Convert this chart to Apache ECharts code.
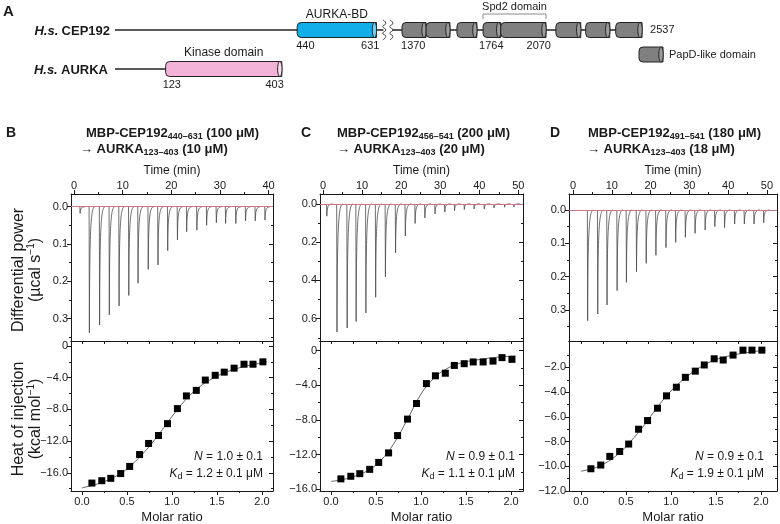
<!DOCTYPE html>
<html>
<head>
<meta charset="utf-8">
<script src="https://cdn.jsdelivr.net/npm/echarts@6/dist/echarts.min.js"></script>
<style>
  html, body { margin: 0; padding: 0; background: #fff; }
  #chart { width: 780px; height: 524px; }
</style>
</head>
<body>
<div id="chart"></div>
<script>
// ---- A: domain architecture (residue numbers)
const cep192Length = 2537;
const aurkaLength = 403;
const aurkaBD = [440, 631];
const kinaseDomain = [123, 403];
const papdDomains = [[1370, 1487], [1487, 1603], [1637, 1734], [1764, 1850], [1850, 2070], [2118, 2239], [2263, 2380], [2409, 2537]];
const spd2Domain = [1764, 2070];
const cepBreak = [631, 1370];

// ---- B–D raw thermograms: injection time (min) and peak depth (µcal/s)
const timesB = [1.2, 3.1, 5.2, 7.2, 9.2, 11.2, 13.1, 15.2, 17.2, 19.2, 21.2, 23.1, 25.2, 27.2, 29.2, 31.1, 33.2, 35.2, 37.2, 39.2];
const peaksB = [0.018, 0.338, 0.317, 0.290, 0.266, 0.238, 0.205, 0.168, 0.156, 0.118, 0.089, 0.067, 0.063, 0.050, 0.043, 0.045, 0.045, 0.038, 0.038, 0.036];
const timesC = [0.9, 3.5, 6.1, 8.4, 10.9, 13.4, 15.9, 18.5, 21.0, 23.5, 26.0, 28.6, 31.1, 33.6, 36.1, 38.6, 41.2, 43.7, 46.4, 48.8];
const peaksC = [0.064, 0.670, 0.649, 0.615, 0.570, 0.488, 0.381, 0.256, 0.168, 0.102, 0.073, 0.052, 0.043, 0.035, 0.029, 0.026, 0.026, 0.021, 0.017, 0.016];
const timesD = [3.7, 6.3, 8.7, 11.3, 13.7, 16.3, 18.8, 21.3, 23.9, 26.4, 28.9, 31.4, 34.0, 36.5, 39.0, 41.6, 44.1, 46.6, 49.1];
const peaksD = [0.332, 0.312, 0.285, 0.242, 0.217, 0.185, 0.160, 0.136, 0.113, 0.097, 0.082, 0.070, 0.060, 0.050, 0.053, 0.042, 0.042, 0.042, 0.038];

// ---- B–D integrated heats (kcal/mol) vs molar ratio
const molarRatio = [0.11, 0.22, 0.32, 0.43, 0.53, 0.64, 0.74, 0.85, 0.95, 1.06, 1.16, 1.27, 1.37, 1.48, 1.58, 1.69, 1.80, 1.90, 2.01];
const heatB = [-17.3, -17.0, -16.7, -16.1, -15.2, -13.7, -12.3, -11.3, -9.8, -7.9, -6.3, -5.6, -4.3, -3.7, -3.3, -2.8, -2.3, -2.3, -2.0];
const heatC = [-14.8, -14.5, -14.2, -13.7, -12.9, -11.8, -9.8, -7.9, -6.1, -3.8, -2.9, -2.6, -1.7, -1.5, -1.3, -1.3, -1.2, -0.8, -1.0];
const heatD = [-10.2, -9.9, -9.2, -8.8, -8.2, -7.0, -6.3, -5.3, -4.3, -3.6, -2.8, -2.3, -1.8, -1.3, -1.4, -1.0, -0.6, -0.6, -0.6];

// fitted curves
const fitRatio = [0, 0.2, 0.4, 0.55, 0.7, 0.85, 1.0, 1.15, 1.3, 1.45, 1.6, 1.8, 2.05];
const fitB = [-17.9, -17.3, -16.3, -15.0, -13.3, -11.2, -8.9, -6.8, -5.2, -4.1, -3.3, -2.6, -2.0];
const fitC = [-15.1, -14.7, -13.9, -12.7, -10.7, -7.9, -5.0, -3.1, -2.0, -1.4, -1.1, -0.8, -0.6];
const fitD = [-10.4, -10.0, -9.1, -8.0, -6.7, -5.2, -3.9, -2.9, -2.1, -1.5, -1.15, -0.85, -0.6];

// tick labels
const timeTicksB = [0, 10, 20, 30, 40];
const timeTicksCD = [0, 10, 20, 30, 40, 50];
const powerTicksB = [0, 0.1, 0.2, 0.3];
const powerTicksC = [0, 0.2, 0.4, 0.6];
const powerTicksD = [0, 0.1, 0.2, 0.3];
const heatTicksB = [0, -4, -8, -12, -16];
const heatTicksC = [0, -4, -8, -12, -16];
const heatTicksD = [-2, -4, -6, -8, -10, -12];
const ratioTicks = [0, 0.5, 1.0, 1.5, 2.0];

const FONT = '"Liberation Sans", Arial, Helvetica, sans-serif';
const INK = '#1a1a1a';

const chart = echarts.init(document.getElementById('chart'));

const grids = [];
const xAxes = [];
const yAxes = [];
const series = [];
const graphics = [];

function axis(list, grid, pos, range, o) {
  list.push({
    type: 'value', gridIndex: grid, position: pos, min: range[0], max: range[1],
    inverse: !!o.inverse,
    axisLine: { show: o.line !== false, onZero: false, lineStyle: { color: INK, width: 1 } },
    axisTick: o.ticks && o.ticks.length
      ? { show: true, inside: !!o.inside, length: o.len || 4, customValues: o.ticks, lineStyle: { color: INK, width: 1 } }
      : { show: false },
    axisLabel: o.labels
      ? { show: true, customValues: o.labels, formatter: o.fmt, margin: o.margin || 3, fontSize: 11, fontFamily: FONT, color: INK }
      : { show: false },
    splitLine: { show: false },
    axisPointer: { show: false }
  });
  return list.length - 1;
}

function mids(majors, range) {
  const step = majors[1] - majors[0];
  const lo = Math.min(range[0], range[1]), hi = Math.max(range[0], range[1]);
  const out = [];
  for (let k = -3; k < majors.length + 3; k++) {
    const v = Math.round((majors[0] + (k + 0.5) * step) * 1e6) / 1e6;
    if (v >= lo && v <= hi) out.push(v);
  }
  return out;
}

function addText(x, y, text, o) {
  o = o || {};
  const align = o.align || 'left';
  graphics.push({
    type: 'text', x: x, y: y, rotation: o.rot || 0, silent: true,
    style: {
      text: text, fontFamily: FONT, fontSize: o.size || 12, fontWeight: o.weight || 'normal',
      fill: INK, align: align, textAlign: align, verticalAlign: 'middle', textVerticalAlign: 'middle',
      rich: o.rich
    }
  });
}

// ---------------- panel A ----------------
const ROW_CEP = 30, ROW_AURKA = 69;
// residues after the break are drawn at about half scale
const mapRes = r => (r <= cepBreak[0] ? r : 692.6 + (r - cepBreak[1]) * 0.4956);

grids.push({ left: 0, top: 0, width: 780, height: 100, outerBoundsMode: 'none' });
const xA = xAxes.push({ type: 'value', gridIndex: 0, min: -276.1, max: 1603.4, show: false }) - 1;
const yA = yAxes.push({ type: 'value', gridIndex: 0, min: 0, max: 100, inverse: true, show: false }) - 1;

const archItems = [
  { kind: 'line', x1: 1, x2: 650, row: ROW_CEP },
  { kind: 'line', x1: 667, x2: mapRes(cep192Length), row: ROW_CEP },
  { kind: 'line', x1: 1, x2: aurkaLength, row: ROW_AURKA },
  { kind: 'brk', x: 650, row: ROW_CEP },
  { kind: 'brk', x: 667, row: ROW_CEP },
  { kind: 'cyl', x1: aurkaBD[0], x2: aurkaBD[1], row: ROW_CEP, color: '#12aeea', cap: '#6fd0f5' },
  { kind: 'cyl', x1: kinaseDomain[0], x2: kinaseDomain[1], row: ROW_AURKA, color: '#f3b3d9', cap: '#fbdcef' }
];
papdDomains.forEach(d => archItems.push({ kind: 'cyl', x1: mapRes(d[0]), x2: mapRes(d[1]), row: ROW_CEP, color: '#808080', cap: '#9c9c9c' }));
archItems.push({ kind: 'bracket', x1: mapRes(spd2Domain[0]), x2: mapRes(spd2Domain[1]), row: ROW_CEP });
archItems.push({ kind: 'txt', x: (aurkaBD[0] + aurkaBD[1]) / 2, row: ROW_CEP, dy: -15, text: 'AURKA-BD', align: 'center', size: 12 });
archItems.push({ kind: 'txt', x: (kinaseDomain[0] + kinaseDomain[1]) / 2, row: ROW_AURKA, dy: -16, text: 'Kinase domain', align: 'center', size: 12 });
archItems.push({ kind: 'txt', x: (mapRes(spd2Domain[0]) + mapRes(spd2Domain[1])) / 2, row: ROW_CEP, dy: -23, text: 'Spd2 domain', align: 'center', size: 11 });
[
  [aurkaBD[0], 'left', -1], [aurkaBD[1], 'right', 3], [papdDomains[0][0], 'left', -1],
  [spd2Domain[0], 'left', -4], [spd2Domain[1], 'right', 5]
].forEach(l => archItems.push({ kind: 'txt', x: mapRes(l[0]), row: ROW_CEP, dy: 16, dx: l[2], text: String(l[0]), align: l[1], size: 11 }));
archItems.push({ kind: 'txt', x: mapRes(cep192Length), row: ROW_CEP, dy: 0, dx: 8, text: String(cep192Length), align: 'left', size: 11 });
archItems.push({ kind: 'txt', x: kinaseDomain[0], row: ROW_AURKA, dy: 16, dx: -3, text: String(kinaseDomain[0]), align: 'left', size: 11 });
archItems.push({ kind: 'txt', x: kinaseDomain[1], row: ROW_AURKA, dy: 16, dx: 2, text: String(kinaseDomain[1]), align: 'right', size: 11 });

function archRender(params, api) {
  const it = archItems[params.dataIndex];
  const stroke = { stroke: '#222', lineWidth: 1 };
  if (it.kind === 'line') {
    const a = api.coord([it.x1, it.row]), b = api.coord([it.x2, it.row]);
    return { type: 'line', shape: { x1: a[0], y1: a[1], x2: b[0], y2: b[1] }, style: { stroke: '#222', lineWidth: 1.3 } };
  }
  if (it.kind === 'cyl') {
    const a = api.coord([it.x1, it.row]), b = api.coord([it.x2, it.row]);
    const h = 15;
    return {
      type: 'group', children: [
        { type: 'rect', shape: { x: a[0], y: a[1] - h / 2, width: b[0] - a[0], height: h, r: [4, 0, 0, 4] }, style: Object.assign({ fill: it.color }, stroke) },
        { type: 'ellipse', shape: { cx: b[0] - 2, cy: b[1], rx: 2.2, ry: h / 2 }, style: Object.assign({ fill: it.cap }, stroke) }
      ]
    };
  }
  if (it.kind === 'brk') {
    const c = api.coord([it.x, it.row]);
    const pts = [];
    for (let k = 0; k <= 6; k++) pts.push([c[0] + (k % 2 ? 1.5 : -1.5), c[1] - 10 + k * 3.3]);
    return {
      type: 'group', children: [
        { type: 'rect', shape: { x: c[0] - 1, y: c[1] - 2, width: 2, height: 4 }, style: { fill: '#fff' } },
        { type: 'polyline', shape: { points: pts, smooth: 0.6 }, style: { stroke: '#333', lineWidth: 0.9, fill: 'none' } }
      ]
    };
  }
  if (it.kind === 'bracket') {
    const a = api.coord([it.x1, it.row]), b = api.coord([it.x2, it.row]);
    const y0 = a[1] - 11, y1 = a[1] - 16;
    return { type: 'polyline', shape: { points: [[a[0], y0], [a[0], y1], [b[0], y1], [b[0], y0]] }, style: { stroke: '#8a8a8a', lineWidth: 1, fill: 'none' } };
  }
  const p = api.coord([it.x, it.row]);
  return {
    type: 'text', x: p[0] + (it.dx || 0), y: p[1] + it.dy,
    style: { text: it.text, fontFamily: FONT, fontSize: it.size, fill: INK, align: it.align, textAlign: it.align, verticalAlign: 'middle', textVerticalAlign: 'middle' }
  };
}

series.push({
  type: 'custom', xAxisIndex: xA, yAxisIndex: yA, silent: true, clip: false,
  data: archItems.map(it => [it.x1 !== undefined ? it.x1 : it.x, it.row]),
  renderItem: archRender
});

addText(3, 12, 'A', { size: 15, weight: 'bold' });
const nameRich = {
  i: { fontFamily: FONT, fontSize: 13, fontWeight: 'bold', fontStyle: 'italic', fill: INK },
  b: { fontFamily: FONT, fontSize: 13, fontWeight: 'bold', fill: INK }
};
addText(110, 31, '{i|H.s.} {b|CEP192}', { align: 'right', rich: nameRich });
addText(108, 70, '{i|H.s.} {b|AURKA}', { align: 'right', rich: nameRich });
// legend for the grey cylinders
graphics.push({
  type: 'group', silent: true, children: [
    { type: 'rect', shape: { x: 639, y: 47, width: 24, height: 15, r: [4, 0, 0, 4] }, style: { fill: '#808080', stroke: '#222', lineWidth: 1 } },
    { type: 'ellipse', shape: { cx: 661, cy: 54.5, rx: 2.2, ry: 7.5 }, style: { fill: '#9c9c9c', stroke: '#222', lineWidth: 1 } }
  ]
});
addText(669, 55, 'PapD-like domain', { size: 11 });

// ---------------- panels B–D ----------------
const panels = [
  {
    letter: 'B', left: 71, width: 202, tRange: [-0.62, 40.9], pRange: [-0.034, 0.36], rRange: [-0.122, 2.122], hRange: [-18.3, 0.63], spikeW: 1.2,
    times: timesB, peaks: peaksB, tTicks: timeTicksB, pTicks: powerTicksB, hTicks: heatTicksB, heats: heatB, fit: fitB,
    title: ['MBP-CEP192', '440–631', ' (100 μM)', '123–403', ' (10 μM)'], tx: [86, 80], n: '1.0 ± 0.1', kd: '1.2 ± 0.1 μM', ax: 263
  },
  {
    letter: 'C', left: 320, width: 203, tRange: [-0.77, 51.2], pRange: [-0.052, 0.717], rRange: [-0.122, 2.133], hRange: [-16.2, 1.12], spikeW: 1.6,
    times: timesC, peaks: peaksC, tTicks: timeTicksCD, pTicks: powerTicksC, hTicks: heatTicksC, heats: heatC, fit: fitC,
    title: ['MBP-CEP192', '456–541', ' (200 μM)', '123–403', ' (20 μM)'], tx: [337, 337], n: '0.9 ± 0.1', kd: '1.1 ± 0.1 μM', ax: 515
  },
  {
    letter: 'D', left: 569, width: 208, tRange: [-1.03, 52.6], pRange: [-0.048, 0.393], rRange: [-0.133, 2.178], hRange: [-12.0, 0.14], spikeW: 1.6,
    times: timesD, peaks: peaksD, tTicks: timeTicksCD, pTicks: powerTicksD, hTicks: heatTicksD, heats: heatD, fit: fitD,
    title: ['MBP-CEP192', '491–541', ' (180 μM)', '123–403', ' (18 μM)'], tx: [588, 587], n: '0.9 ± 0.1', kd: '1.9 ± 0.1 μM', ax: 764
  }
];

function spikeRenderer(w) {
  return function (params, api) {
    const t = api.value(0), p = api.value(1);
    const s = api.coord([t, 0]);
    const tip = api.coord([t + 0.05 * w, p]);
    const c1 = api.coord([t + 0.09 * w, p * 0.2]);
    const c2 = api.coord([t + 0.25 * w, 0]);
    const e = api.coord([t + w, 0]);
    const style = { fill: 'none', stroke: '#4a4a4a', lineWidth: 0.8 };
    return {
      type: 'group', children: [
        { type: 'line', shape: { x1: s[0], y1: s[1], x2: tip[0], y2: tip[1] }, style: style },
        { type: 'bezierCurve', shape: { x1: tip[0], y1: tip[1], cpx1: c1[0], cpy1: c1[1], cpx2: c2[0], cpy2: c2[1], x2: e[0], y2: e[1] }, style: style }
      ]
    };
  };
}

const heatFmt = v => (v === 0 ? '0' : '\u2212' + Math.abs(v).toFixed(1));
const titleRich = {
  b: { fontFamily: FONT, fontSize: 13, fontWeight: 'bold', fill: INK },
  s: { fontFamily: FONT, fontSize: 9, fontWeight: 'bold', fill: INK, padding: [7, 0, 0, 0] }
};
const noteRich = {
  i: { fontFamily: FONT, fontSize: 12, fontStyle: 'italic', fill: INK },
  r: { fontFamily: FONT, fontSize: 12, fill: INK },
  s: { fontFamily: FONT, fontSize: 9, fill: INK, padding: [6, 0, 0, 0] }
};

panels.forEach(p => {
  const gu = grids.push({ left: p.left, top: 194, width: p.width, height: 147, outerBoundsMode: 'none' }) - 1;
  const gl = grids.push({ left: p.left, top: 341, width: p.width, height: 150, outerBoundsMode: 'none' }) - 1;

  // upper: thermogram
  const xu = axis(xAxes, gu, 'top', p.tRange, { ticks: p.tTicks, labels: p.tTicks, fmt: v => String(v) });
  axis(xAxes, gu, 'top', p.tRange, { line: false, ticks: mids(p.tTicks, p.tRange), len: 2 });
  axis(xAxes, gu, 'bottom', p.tRange, {});
  const yu = axis(yAxes, gu, 'left', p.pRange, { inverse: true, ticks: p.pTicks, labels: p.pTicks, fmt: v => v.toFixed(1) });
  axis(yAxes, gu, 'left', p.pRange, { inverse: true, line: false, ticks: mids(p.pTicks, p.pRange), len: 2 });
  axis(yAxes, gu, 'right', p.pRange, { inverse: true, ticks: p.pTicks, inside: true });
  axis(yAxes, gu, 'right', p.pRange, { inverse: true, line: false, ticks: mids(p.pTicks, p.pRange), inside: true, len: 2 });

  series.push({
    type: 'custom', xAxisIndex: xu, yAxisIndex: yu, silent: true, clip: true,
    data: p.times.map((t, i) => [t, p.peaks[i]]),
    renderItem: spikeRenderer(p.spikeW),
    markLine: {
      silent: true, symbol: 'none', label: { show: false }, animation: false,
      lineStyle: { type: 'solid' },
      data: [
        { yAxis: 0, lineStyle: { color: '#444', width: 1.1, type: 'solid' } },
        { yAxis: 0, lineStyle: { color: '#e27a88', width: 1, type: 'solid', opacity: 0.9 } }
      ]
    }
  });

  // lower: integrated heats
  const xl = axis(xAxes, gl, 'bottom', p.rRange, { ticks: ratioTicks, labels: ratioTicks, fmt: v => v.toFixed(1), margin: 5 });
  axis(xAxes, gl, 'bottom', p.rRange, { line: false, ticks: mids(ratioTicks, p.rRange), len: 2 });
  axis(xAxes, gl, 'top', p.rRange, { ticks: ratioTicks.concat(mids(ratioTicks, p.rRange)), inside: true, len: 3 });
  const yl = axis(yAxes, gl, 'left', p.hRange, { ticks: p.hTicks, labels: p.hTicks, fmt: heatFmt });
  axis(yAxes, gl, 'left', p.hRange, { line: false, ticks: mids(p.hTicks, p.hRange), len: 2 });
  axis(yAxes, gl, 'right', p.hRange, { ticks: p.hTicks, inside: true });
  axis(yAxes, gl, 'right', p.hRange, { line: false, ticks: mids(p.hTicks, p.hRange), inside: true, len: 2 });

  series.push({
    type: 'line', xAxisIndex: xl, yAxisIndex: yl, silent: true, z: 2,
    data: fitRatio.map((r, i) => [r, p.fit[i]]),
    smooth: 0.4, showSymbol: false, lineStyle: { color: '#666', width: 1 }
  });
  series.push({
    type: 'scatter', xAxisIndex: xl, yAxisIndex: yl, silent: true, z: 6,
    data: molarRatio.map((r, i) => [r, p.heats[i]]),
    symbol: 'rect', symbolSize: 7, itemStyle: { color: '#000', opacity: 1, borderWidth: 0 }
  });

  // texts
  const cx = p.left + p.width / 2;
  addText(p.left - (p.letter === 'B' ? 65 : 19), 133, p.letter, { size: 14, weight: 'bold' });
  addText(p.tx[0], 133, `{b|${p.title[0]}}{s|${p.title[1]}}{b|${p.title[2]}}`, { rich: titleRich });
  addText(p.tx[1], 149, `{b|→ AURKA}{s|${p.title[3]}}{b|${p.title[4]}}`, { rich: titleRich });
  addText(cx, 171, 'Time (min)', { size: 12, align: 'center' });
  addText(cx, 517, 'Molar ratio', { size: 13, align: 'center' });
  addText(p.ax, 457, `{i|N}{r| = ${p.n}}`, { align: 'right', rich: noteRich });
  addText(p.ax, 474, `{i|K}{s|d}{r| = ${p.kd}}`, { align: 'right', rich: noteRich });
});

// y-axis titles
const supRich = {
  r: { fontFamily: FONT, fontSize: 16, fill: INK },
  u: { fontFamily: FONT, fontSize: 10, fill: INK, padding: [0, 0, 9, 0] }
};
addText(19, 270, 'Differential power', { size: 16, align: 'center', rot: Math.PI / 2 });
addText(36, 270, '{r|(µcal s}{u|−1}{r|)}', { align: 'center', rot: Math.PI / 2, rich: supRich });
addText(19, 419, 'Heat of injection', { size: 16, align: 'center', rot: Math.PI / 2 });
addText(36, 419, '{r|(kcal mol}{u|−1}{r|)}', { align: 'center', rot: Math.PI / 2, rich: supRich });

chart.setOption({
  animation: false,
  backgroundColor: '#fff',
  textStyle: { fontFamily: FONT },
  grid: grids,
  xAxis: xAxes,
  yAxis: yAxes,
  series: series,
  graphic: graphics
});
</script>
</body>
</html>
